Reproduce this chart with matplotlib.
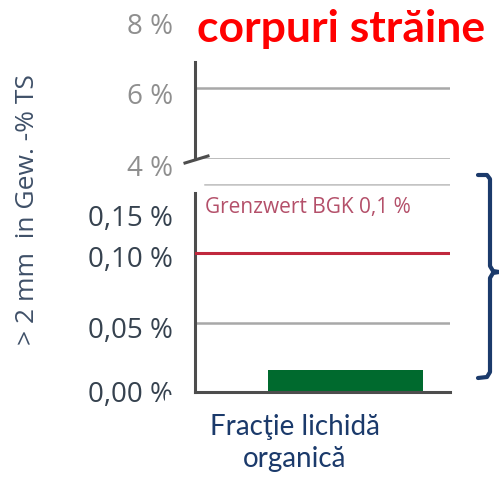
"""Broken-axis bar chart: foreign matter (> 2 mm) in the organic liquid fraction."""

import matplotlib

matplotlib.use("Agg")

import matplotlib.pyplot as plt  # noqa: E402
from matplotlib.lines import Line2D  # noqa: E402
from matplotlib.patches import Rectangle  # noqa: E402
from matplotlib.transforms import ScaledTranslation  # noqa: E402

# --- data -----------------------------------------------------------------
CATEGORIES = ["Fracţie lichidă\norganică"]
IMPURITY_PCT = [0.016]

LIMIT_PCT = 0.10
LIMIT_LABEL = "Grenzwert BGK 0,1 %"

UPPER_TICKS = [4, 6, 8]
UPPER_LABELS = ["4 %", "6 %", "8 %"]
LOWER_TICKS = [0.00, 0.05, 0.10, 0.15]
LOWER_LABELS = ["0,00 %", "0,05 %", "0,10 %", "0,15 %"]

TITLE = "corpuri străine"
Y_LABEL = "> 2 mm  in Gew. -% TS"

# --- style ----------------------------------------------------------------
W, H = 499, 479
SPINE = "#4d4d4d"
GRID = "#a8a8a8"
UPPER_TXT = "#8f8f8f"
LOWER_TXT = "#36424f"
LIMIT_RED = "#c0283d"
LIMIT_TXT = "#b4506a"
BAR_GREEN = "#006a2e"
NAVY = "#1b3a6b"
TICK_FONT = "Open Sans"
SLIDE_FONT = "Lato"


def fx(px):
    return px / W


def fy(py):
    return 1 - py / H


def nudge(label, fig, dy_px):
    label.set_transform(label.get_transform() + ScaledTranslation(0, -dy_px / 100, fig.dpi_scale_trans))


fig = plt.figure(figsize=(W / 100, H / 100), dpi=100)

left, right = fx(195), fx(450)
top_ax = fig.add_axes([left, fy(159), right - left, fy(17) - fy(159)])
low_ax = fig.add_axes([left, fy(392), right - left, fy(184) - fy(392)])

# upper (cut) part of the axis
top_ax.set_ylim(4, 8)
top_ax.set_xlim(0, 1)
top_ax.set_xticks([])
top_ax.set_yticks(UPPER_TICKS, UPPER_LABELS, fontsize=20, color=UPPER_TXT, family=TICK_FONT)
top_ax.tick_params(axis="y", length=0, pad=16)
for s in ("top", "right", "bottom"):
    top_ax.spines[s].set_visible(False)
top_ax.spines["left"].set_color(SPINE)
top_ax.spines["left"].set_linewidth(2.2)
top_ax.spines["left"].set_bounds(4, 6.73)
for v in UPPER_TICKS[:-1]:
    top_ax.axhline(v, color=GRID, lw=1.8, zorder=1)
top_ax.patch.set_alpha(0)
for lab in top_ax.get_yticklabels():
    nudge(lab, fig, 6)
# break mark
fig.add_artist(Line2D([fx(185), fx(208)], [fy(163), fy(156)], color=SPINE, lw=2.2))

# lower part with the measured value
low_ax.set_ylim(0, 0.15)
low_ax.set_xlim(-0.582, 0.405)
low_ax.bar(range(len(CATEGORIES)), IMPURITY_PCT, width=0.6, color=BAR_GREEN, zorder=2)
low_ax.axhline(LIMIT_PCT, color=LIMIT_RED, lw=2.2, zorder=3)
low_ax.axhline(0.05, color=GRID, lw=1.8, zorder=1)
low_ax.axhline(LOWER_TICKS[-1], xmin=0.04, color="#c4c4c4", lw=1.8, zorder=1)
low_ax.text(0.04, 0.1333, LIMIT_LABEL, transform=low_ax.get_yaxis_transform(),
            fontsize=15, color=LIMIT_TXT, family=TICK_FONT, va="center", ha="left")
low_ax.set_xticks([])
low_ax.set_yticks(LOWER_TICKS, LOWER_LABELS, fontsize=20, color=LOWER_TXT, family=TICK_FONT)
low_ax.tick_params(axis="y", length=0, pad=16)
for s in ("top", "right"):
    low_ax.spines[s].set_visible(False)
for s in ("left", "bottom"):
    low_ax.spines[s].set_color(SPINE)
    low_ax.spines[s].set_linewidth(2.2)
low_ax.spines["left"].set_bounds(0, 0.1434)
for lab, dy in zip(low_ax.get_yticklabels(), [0, 5, 3, 31]):
    nudge(lab, fig, dy)

# slide overlays: white label box, category text, title, axis label, brace
fig.add_artist(Rectangle((fx(165), fy(437)), fx(421) - fx(165), fy(395) - fy(437),
                         transform=fig.transFigure, facecolor="white", edgecolor="none", zorder=2))
fig.text(fx(295), fy(443), CATEGORIES[0], ha="center", va="center", fontsize=20,
         color=NAVY, family=SLIDE_FONT, linespacing=1.3, zorder=3)
fig.text(fx(197), fy(42), TITLE, ha="left", va="baseline", fontsize=32,
         fontweight="bold", color="#ff0000", family=SLIDE_FONT)
fig.text(fx(28), fy(210), Y_LABEL, rotation=90, ha="center", va="center",
         fontsize=19, color="#3f5068", family=TICK_FONT)

bx = [478, 487, 490, 490, 493, 499, 493, 490, 490, 487, 478]
by = [175, 175, 179, 266, 271, 272, 273, 278, 372, 377, 378]
fig.add_artist(Line2D([fx(x) for x in bx], [fy(y) for y in by], color=NAVY, lw=3,
                      solid_joinstyle="round", solid_capstyle="round"))

fig.savefig("out.png", dpi=100)
